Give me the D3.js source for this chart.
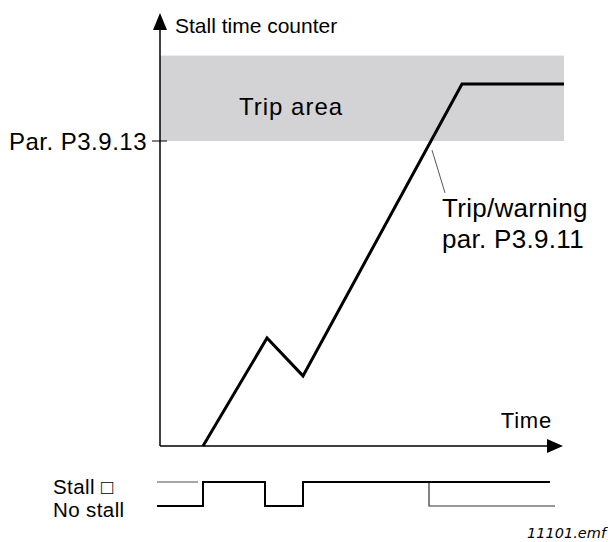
<!DOCTYPE html>
<html>
<head>
<meta charset="utf-8">
<script src="https://cdn.jsdelivr.net/npm/d3@7"></script>
<style>
  html, body { margin: 0; padding: 0; background: #fff; }
  svg { display: block; }
  text { font-family: "Liberation Sans", Arial, sans-serif; fill: #000; }
</style>
</head>
<body>
<svg id="chart" width="608" height="542"></svg>
<script>
// ---- data ----
const counterTime   = [10.75, 26.75, 35.75, 75.5, 101];
const counterValue  = [0, 35.4, 23, 118.7, 118.7];
const tripLevel     = 100;          // Par. P3.9.13
const tripAreaTop   = 128;
const stallTime     = [-0.75, 10.75, 10.75, 26.25, 26.25, 35.75, 35.75, 97.5];
const stallState    = [0, 0, 1, 1, 0, 0, 1, 1];
const noStallGhostTime  = [67.25, 67.25, 98.75];
const noStallGhostState = [1, 0, 0];
const stallGhostTime  = [-0.75, 9.5];
const stallGhostState = [1, 1];
const labels = {
  yAxis: "Stall time counter",
  xAxis: "Time",
  tripArea: "Trip area",
  par13: "Par. P3.9.13",
  trip1: "Trip/warning",
  trip2: "par. P3.9.11",
  stall: "Stall \u25A1",
  noStall: "No stall",
  file: "11101.emf"
};

// ---- scales ----
const x = d3.scaleLinear().domain([0, 100]).range([160, 560]);
const y = d3.scaleLinear().domain([0, 100]).range([446, 141]);
const s = d3.scaleLinear().domain([0, 1]).range([506, 482]);

const svg = d3.select("#chart");

// trip area
svg.append("rect")
  .attr("x", x(0)).attr("y", y(tripAreaTop))
  .attr("width", x(101) - x(0)).attr("height", y(tripLevel) - y(tripAreaTop))
  .attr("fill", "#d3d3d5");

// axes
const yTop = y(142), xEnd = x(96.75), xTip = x(100.75);
svg.append("line").attr("x1", x(0)).attr("x2", x(0)).attr("y1", y(0)).attr("y2", yTop + 10)
  .attr("stroke", "#000").attr("stroke-width", 1.5);
svg.append("path")
  .attr("d", `M${x(0)},${yTop} L${x(0) - 7},${yTop + 17} L${x(0) + 7},${yTop + 17} Z`)
  .attr("fill", "#000");
svg.append("line").attr("x1", x(0)).attr("x2", xEnd + 2).attr("y1", y(0)).attr("y2", y(0))
  .attr("stroke", "#000").attr("stroke-width", 1.5);
svg.append("path")
  .attr("d", `M${xTip},${y(0)} L${xEnd},${y(0) - 7} L${xEnd},${y(0) + 7} Z`)
  .attr("fill", "#000");

// tick at trip level
svg.append("line").attr("x1", x(0) - 8).attr("x2", x(0) + 7)
  .attr("y1", y(tripLevel)).attr("y2", y(tripLevel))
  .attr("stroke", "#000").attr("stroke-width", 1);

// counter line
const line = d3.line().x(d => x(d[0])).y(d => y(d[1]));
svg.append("path")
  .attr("d", line(counterTime.map((t, i) => [t, counterValue[i]])))
  .attr("fill", "none").attr("stroke", "#000").attr("stroke-width", 3)
  .attr("stroke-linejoin", "miter");

// leader line
svg.append("line")
  .attr("x1", x(68) ).attr("y1", y(97))
  .attr("x2", x(71.25)).attr("y2", y(83))
  .attr("stroke", "#555").attr("stroke-width", 1);

// stall signal
const sl = d3.line().x(d => x(d[0])).y(d => s(d[1]));
svg.append("path")
  .attr("d", sl(stallGhostTime.map((t, i) => [t, stallGhostState[i]])))
  .attr("fill", "none").attr("stroke", "#888").attr("stroke-width", 1.5);
svg.append("path")
  .attr("d", sl(noStallGhostTime.map((t, i) => [t, noStallGhostState[i]])))
  .attr("fill", "none").attr("stroke", "#333").attr("stroke-width", 1.2);
svg.append("path")
  .attr("d", sl(stallTime.map((t, i) => [t, stallState[i]])))
  .attr("fill", "none").attr("stroke", "#000").attr("stroke-width", 2);

// texts
svg.append("text").attr("x", 175).attr("y", 33).attr("font-size", 21).text(labels.yAxis);
svg.append("text").attr("x", 552).attr("y", 428).attr("font-size", 22).attr("letter-spacing", 0.8).attr("text-anchor", "end").text(labels.xAxis);
svg.append("text").attr("x", 239).attr("y", 115).attr("font-size", 24).attr("letter-spacing", 1).text(labels.tripArea);
svg.append("text").attr("x", 147).attr("y", y(tripLevel) + 9).attr("font-size", 24).attr("letter-spacing", 0.5).attr("text-anchor", "end").text(labels.par13);
svg.append("text").attr("x", 442).attr("y", 217).attr("font-size", 26).attr("letter-spacing", 0.3).text(labels.trip1);
svg.append("text").attr("x", 442).attr("y", 248).attr("font-size", 26).attr("letter-spacing", 0.3).text(labels.trip2);
svg.append("text").attr("x", 53).attr("y", 494).attr("font-size", 20.5).attr("letter-spacing", 0.4).text(labels.stall);
svg.append("text").attr("x", 53).attr("y", 517).attr("font-size", 20.5).attr("letter-spacing", 0.4).text(labels.noStall);
svg.append("text").attr("x", 606).attr("y", 538).attr("font-size", 14.5)
  .attr("text-anchor", "end").attr("font-style", "italic").attr("fill", "#222")
  .style("font-family", "'DejaVu Sans', sans-serif").text(labels.file);
</script>
</body>
</html>
